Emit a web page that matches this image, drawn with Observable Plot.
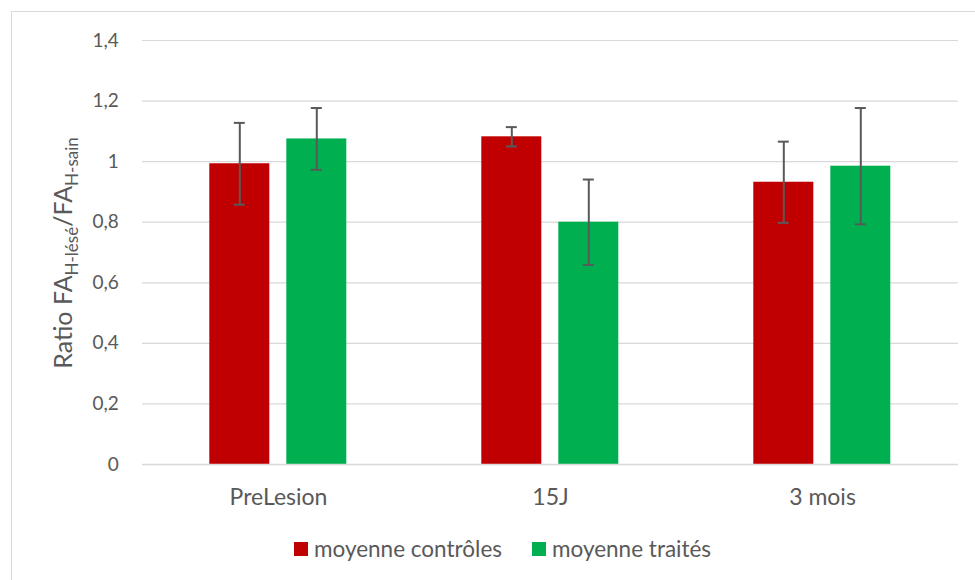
<!DOCTYPE html>
<html>
<head>
<meta charset="utf-8">
<script src="https://cdn.jsdelivr.net/npm/d3@7"></script>
<script src="https://cdn.jsdelivr.net/npm/@observablehq/plot@0.6"></script>
<style>
  html, body { margin: 0; padding: 0; background: #fff; }
  #wrap { position: relative; width: 975px; height: 580px; overflow: hidden; font-family: Lato, sans-serif; color: #595959; }
  #frame { position: absolute; left: 11px; top: 11px; width: 1000px; height: 600px; border-top: 1.5px solid #d9d9d9; border-left: 1.5px solid #d9d9d9; box-sizing: border-box; pointer-events: none; }
  #chart { position: absolute; left: 0; top: 0; }
  #legend { position: absolute; left: 294px; top: 535px; display: flex; font-size: 22.5px; line-height: 28px; }
  .item { display: flex; align-items: center; margin-right: 30px; }
  .sw { width: 13.5px; height: 13.5px; margin-right: 6.5px; }
</style>
</head>
<body>
<div id="wrap">
  <div id="chart"></div>
  <div id="frame"></div>
  <div id="legend"></div>
</div>
<script>
const categories = ["PreLesion", "15J", "3 mois"];
const series = ["moyenne contrôles", "moyenne traités"];
const colors = ["#C00000", "#00B050"];
const controles = [0.993, 1.082, 0.932];
const controlesErr = [0.135, 0.032, 0.134];
const traites = [1.075, 0.800, 0.985];
const traitesErr = [0.102, 0.141, 0.192];
const yTicks = [0, 0.2, 0.4, 0.6, 0.8, 1, 1.2, 1.4];

const rows = [];
categories.forEach((c, i) => {
  rows.push({cat: c, series: series[0], value: controles[i], err: controlesErr[i]});
  rows.push({cat: c, series: series[1], value: traites[i], err: traitesErr[i]});
});

const plot = Plot.plot({
  width: 975,
  height: 580,
  marginTop: 40,
  marginBottom: 116,
  marginLeft: 141.7,
  marginRight: 16.3,
  style: {fontFamily: "Lato, sans-serif", color: "#595959", background: "transparent"},
  fx: {domain: categories, padding: 0, label: null},
  x: {domain: series, paddingInner: 0.218, paddingOuter: 0.856, axis: null},
  y: {domain: [0, 1.4], label: null},
  color: {domain: series, range: colors},
  marks: [
    Plot.gridY(yTicks, {stroke: "#d9d9d9", strokeOpacity: 1, strokeWidth: 1.2}),
    Plot.axisY({ticks: yTicks, tickFormat: d => String(d).replace(".", ","), tickSize: 0, tickPadding: 23.7, fontSize: 19, label: null, fill: "#595959"}),
    Plot.axisFx({anchor: "bottom", tickSize: 0, tickPadding: 24, fontSize: 23, label: null, fill: "#595959"}),
    Plot.barY(rows, {fx: "cat", x: "series", y: "value", fill: "series"}),
    Plot.ruleY([0], {stroke: "#d9d9d9", strokeWidth: 1.5}),
    Plot.ruleX(rows, {fx: "cat", x: "series", y1: d => d.value - d.err, y2: d => d.value + d.err, stroke: "#595959", strokeWidth: 2}),
    Plot.tickY(rows, {fx: "cat", x: "series", y: d => d.value - d.err, stroke: "#595959", strokeWidth: 2, insetLeft: 24.5, insetRight: 24.5}),
    Plot.tickY(rows, {fx: "cat", x: "series", y: d => d.value + d.err, stroke: "#595959", strokeWidth: 2, insetLeft: 24.5, insetRight: 24.5})
  ]
});

// y axis label with subscripts
const svg = d3.select(plot);
const t = svg.append("text")
  .attr("transform", "translate(72,253) rotate(-90)")
  .attr("text-anchor", "middle")
  .attr("fill", "#595959")
  .attr("font-family", "Lato, sans-serif")
  .attr("font-size", 25);
t.append("tspan").text("Ratio FA");
t.append("tspan").attr("font-size", 17).attr("dy", 6).text("H-lésé");
t.append("tspan").attr("dy", -6).text("/FA");
t.append("tspan").attr("font-size", 17).attr("dy", 6).text("H-sain");

document.getElementById("chart").appendChild(plot);

const legend = document.getElementById("legend");
series.forEach((s, i) => {
  const item = document.createElement("div");
  item.className = "item";
  const sw = document.createElement("div");
  sw.className = "sw";
  sw.style.background = colors[i];
  const lab = document.createElement("span");
  lab.textContent = s;
  item.appendChild(sw);
  item.appendChild(lab);
  legend.appendChild(item);
});
</script>
</body>
</html>
